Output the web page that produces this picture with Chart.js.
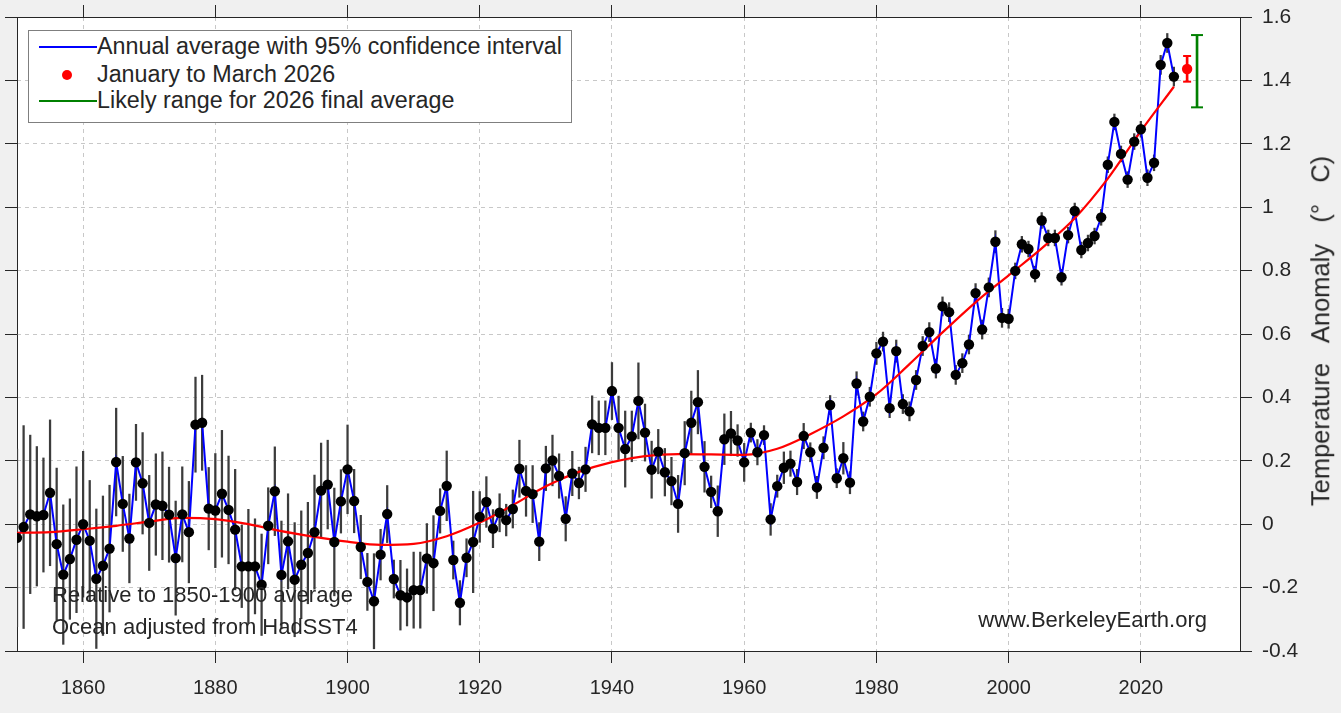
<!DOCTYPE html>
<html>
<head>
<meta charset="utf-8">
<script src="https://cdn.jsdelivr.net/npm/chart.js@4.4.1/dist/chart.umd.min.js"></script>
<style>
html,body{margin:0;padding:0;background:#f0f0f0;}
#wrap{position:relative;width:1341px;height:713px;overflow:hidden;}
#c{position:absolute;left:0;top:0;}
.txt{position:absolute;font-family:"Liberation Sans",Arial,sans-serif;color:#262626;white-space:pre;line-height:1;}
#legend{position:absolute;left:28px;top:30px;width:544px;height:93px;background:#fff;border:1px solid #7f7f7f;box-sizing:border-box;}
.lrow{position:absolute;left:0;height:26px;width:100%;}
.lrow .smp{position:absolute;left:10px;width:58px;height:2px;top:13px;}
.lrow .dot{position:absolute;left:33px;top:9px;width:10px;height:10px;border-radius:50%;background:#ff0000;}
.lrow .lt{position:absolute;left:68px;top:2px;font-family:"Liberation Sans",Arial,sans-serif;font-size:23.3px;color:#262626;white-space:nowrap;line-height:1;}
#ytitle{position:absolute;left:1321px;top:331px;transform:translate(-50%,-50%) rotate(-90deg);font-size:25.5px;}
</style>
</head>
<body>
<div id="wrap">
<canvas id="c" width="1341" height="713"></canvas>
<div id="legend">
  <div class="lrow" style="top:2px"><div class="smp" style="background:#0000ff"></div><div class="lt">Annual average with 95% confidence interval</div></div>
  <div class="lrow" style="top:30px"><div class="dot"></div><div class="lt">January to March 2026</div></div>
  <div class="lrow" style="top:56px"><div class="smp" style="background:#008000"></div><div class="lt">Likely range for 2026 final average</div></div>
</div>
<div class="txt" style="left:52px;top:584px;font-size:22px;">Relative to 1850-1900 average</div>
<div class="txt" style="left:52px;top:616px;font-size:22px;">Ocean adjusted from HadSST4</div>
<div class="txt" style="left:1207px;top:609px;font-size:22px;transform:translateX(-100%);">www.BerkeleyEarth.org</div>
<div class="txt" id="ytitle">Temperature   Anomaly   (°   C)</div>
</div>
<script>
// ---- data ----
const firstYear = 1850;
const anomaly = [
 -0.043,-0.009,0.031,0.025,0.029,0.099,-0.063,-0.159,-0.110,-0.049,
  0.000,-0.052,-0.172,-0.131,-0.077,0.196,0.064,-0.045,0.195,0.129,
  0.004,0.062,0.058,0.030,-0.107,0.031,-0.025,0.314,0.320,0.049,
  0.043,0.096,0.045,-0.017,-0.133,-0.133,-0.133,-0.191,-0.005,0.104,
 -0.160,-0.054,-0.175,-0.128,-0.091,-0.025,0.106,0.125,-0.056,0.072,
  0.173,0.073,-0.072,-0.182,-0.243,-0.096,0.032,-0.173,-0.224,-0.231,
 -0.208,-0.208,-0.108,-0.123,0.042,0.121,-0.113,-0.248,-0.106,-0.056,
  0.023,0.070,-0.014,0.036,0.013,0.048,0.175,0.105,0.095,-0.055,
  0.176,0.201,0.152,0.017,0.160,0.130,0.173,0.315,0.304,0.304,
  0.420,0.304,0.237,0.277,0.389,0.289,0.172,0.229,0.164,0.136,
  0.064,0.224,0.320,0.385,0.181,0.102,0.041,0.268,0.286,0.264,
  0.195,0.289,0.227,0.281,0.015,0.120,0.178,0.191,0.133,0.278,
  0.227,0.116,0.241,0.376,0.145,0.208,0.131,0.444,0.324,0.402,
  0.539,0.576,0.366,0.546,0.379,0.356,0.455,0.562,0.606,0.491,
  0.687,0.669,0.471,0.508,0.567,0.729,0.614,0.747,0.891,0.651,
  0.648,0.799,0.883,0.868,0.789,0.958,0.903,0.903,0.779,0.912,
  0.988,0.865,0.887,0.909,0.968,1.134,1.269,1.168,1.087,1.207,
  1.246,1.093,1.140,1.449,1.518,1.412
];
const uncertainty = [
 0.28,0.32,0.25,0.22,0.18,0.23,0.24,0.22,0.19,0.23,
 0.23,0.19,0.22,0.22,0.20,0.17,0.15,0.14,0.12,0.16,
 0.15,0.16,0.17,0.15,0.18,0.15,0.16,0.15,0.15,0.13,
 0.18,0.20,0.17,0.19,0.13,0.18,0.15,0.16,0.12,0.14,
 0.17,0.15,0.18,0.17,0.16,0.18,0.15,0.14,0.17,0.10,
 0.14,0.10,0.10,0.09,0.15,0.08,0.09,0.06,0.11,0.09,
 0.12,0.12,0.11,0.15,0.07,0.11,0.06,0.07,0.06,0.16,
 0.08,0.08,0.06,0.06,0.05,0.06,0.09,0.08,0.09,0.06,
 0.07,0.08,0.07,0.07,0.07,0.05,0.07,0.09,0.085,0.085,
 0.09,0.10,0.12,0.08,0.12,0.09,0.09,0.07,0.075,0.075,
 0.09,0.10,0.10,0.10,0.08,0.05,0.08,0.08,0.07,0.05,
 0.06,0.03,0.04,0.03,0.05,0.035,0.05,0.04,0.04,0.04,
 0.03,0.035,0.035,0.03,0.03,0.05,0.035,0.037,0.03,0.03,
 0.035,0.03,0.03,0.035,0.03,0.03,0.03,0.03,0.03,0.03,
 0.03,0.03,0.03,0.03,0.03,0.03,0.03,0.03,0.035,0.03,
 0.03,0.025,0.025,0.025,0.025,0.025,0.025,0.025,0.025,0.025,
 0.025,0.025,0.025,0.025,0.025,0.025,0.025,0.025,0.025,0.025,
 0.025,0.025,0.025,0.03,0.03,0.03
];
const smoothYears  = [1850,1855,1860,1865,1870,1875,1880,1885,1890,1895,1900,1905,1910,1915,1920,1925,1930,1935,1940,1945,1950,1955,1960,1965,1970,1975,1980,1985,1990,1995,2000,2005,2010,2015,2020,2025];
const smoothValues = [-0.027,-0.025,-0.016,-0.005,0.008,0.020,0.016,0.000,-0.022,-0.040,-0.055,-0.065,-0.062,-0.038,0.005,0.060,0.120,0.165,0.196,0.215,0.221,0.220,0.219,0.238,0.284,0.340,0.410,0.505,0.605,0.700,0.785,0.870,0.965,1.090,1.240,1.380];
const janMarX = [2027];
const janMarValue = [1.436];
const janMarLow = [1.396];
const janMarHigh = [1.477];
const likelyX = [2028.5];
const likelyLow = [1.315];
const likelyHigh = [1.543];
const xTickValues = [1860,1880,1900,1920,1940,1960,1980,2000,2020];
const xTickLabels = ['1860','1880','1900','1920','1940','1960','1980','2000','2020'];
const yTickValues = [-0.4,-0.2,0,0.2,0.4,0.6,0.8,1,1.2,1.4,1.6];
const yTickLabels = ['-0.4','-0.2','0','0.2','0.4','0.6','0.8','1','1.2','1.4','1.6'];

// ---- build datasets ----
const years = anomaly.map((_, i) => firstYear + i);
const pts = years.map((y, i) => ({x: y, y: anomaly[i]}));
const errBars = years.map((y, i) => ({x: y, y: [anomaly[i] - uncertainty[i], anomaly[i] + uncertainty[i]]}));
const smooth = smoothYears.map((y, i) => ({x: y, y: smoothValues[i]}));

const FONT = '"Liberation Sans", Arial, sans-serif';
const AX = '#262626';

const bgPlugin = {
  id: 'bg',
  beforeDraw(chart) {
    const {ctx, chartArea: a} = chart;
    ctx.save();
    ctx.fillStyle = '#ffffff';
    ctx.fillRect(a.left, a.top, a.right - a.left, a.bottom - a.top);
    ctx.restore();
  }
};

function setTicks(vals) { return s => { s.ticks = vals.map(v => ({value: v})); }; }
function fixW(w) { return s => { s.width = w; s.paddingTop = 0; s.paddingBottom = 0; }; }
function fixH(h) { return s => { s.height = h; s.paddingLeft = 0; s.paddingRight = 0; }; }

new Chart(document.getElementById('c'), {
  type: 'scatter',
  plugins: [bgPlugin],
  data: {
    datasets: [
      {type: 'bar', data: errBars, backgroundColor: '#3c3c3c', borderWidth: 0, grouped: false, barThickness: 1.6, maxBarThickness: 1.6, order: 10},
      {type: 'line', data: pts, borderColor: '#0000ff', borderWidth: 2, pointRadius: 0, tension: 0, fill: false, order: 6},
      {type: 'line', data: smooth, borderColor: '#ff0000', borderWidth: 2.2, pointRadius: 0, cubicInterpolationMode: 'monotone', fill: false, order: 5},
      {type: 'scatter', data: pts, pointRadius: 5.2, pointBackgroundColor: '#000', pointBorderWidth: 0, order: 4},
      {type: 'bar', data: janMarX.map((x, i) => ({x, y: [janMarLow[i], janMarHigh[i]]})), backgroundColor: '#ff0000', borderWidth: 0, grouped: false, barThickness: 2, maxBarThickness: 2, order: 3},
      {type: 'scatter', data: janMarX.flatMap((x, i) => [{x, y: janMarLow[i]}, {x, y: janMarHigh[i]}]), pointStyle: 'line', pointRadius: 4, pointBorderColor: '#ff0000', pointBorderWidth: 2, order: 2},
      {type: 'scatter', data: janMarX.map((x, i) => ({x, y: janMarValue[i]})), pointRadius: 5.2, pointBackgroundColor: '#ff0000', pointBorderWidth: 0, order: 1},
      {type: 'bar', data: likelyX.map((x, i) => ({x, y: [likelyLow[i], likelyHigh[i]]})), backgroundColor: '#008000', borderWidth: 0, grouped: false, barThickness: 2, maxBarThickness: 2, order: 3},
      {type: 'scatter', data: likelyX.flatMap((x, i) => [{x, y: likelyLow[i]}, {x, y: likelyHigh[i]}]), pointStyle: 'line', pointRadius: 6, pointBorderColor: '#008000', pointBorderWidth: 2, order: 2}
    ]
  },
  options: {
    responsive: false,
    animation: false,
    events: [],
    layout: {padding: 0},
    plugins: {legend: {display: false}, tooltip: {enabled: false}},
    scales: {
      x: {
        type: 'linear', position: 'bottom', min: 1850, max: 2035, offset: false,
        afterBuildTicks: setTicks(xTickValues),
        afterFit: fixH(62),
        ticks: {font: {family: FONT, size: 20}, color: AX, padding: 13, maxRotation: 0, autoSkip: false,
                callback: (v) => xTickLabels[xTickValues.indexOf(v)]},
        grid: {color: '#c8c8c8', lineWidth: 1, tickLength: 12, tickColor: AX, tickWidth: 1, offset: false},
        border: {display: true, color: AX, width: 1, dash: [4, 4]}
      },
      xTop: {
        type: 'linear', position: 'top', min: 1850, max: 2035, offset: false,
        afterBuildTicks: setTicks(xTickValues),
        afterFit: fixH(17),
        ticks: {display: false},
        grid: {drawOnChartArea: false, tickLength: 12, tickColor: AX, tickWidth: 1, offset: false},
        border: {display: true, color: AX, width: 1}
      },
      y: {
        type: 'linear', position: 'right', min: -0.4, max: 1.6,
        afterBuildTicks: setTicks(yTickValues),
        afterFit: fixW(101),
        ticks: {font: {family: FONT, size: 21}, color: AX, padding: 10, autoSkip: false,
                callback: (v) => yTickLabels[yTickValues.findIndex(t => Math.abs(t - v) < 1e-9)]},
        grid: {color: '#c8c8c8', lineWidth: 1, tickLength: 12, tickColor: AX, tickWidth: 1},
        border: {display: true, color: AX, width: 1, dash: [4, 4]}
      },
      yLeft: {
        type: 'linear', position: 'left', min: -0.4, max: 1.6,
        afterBuildTicks: setTicks(yTickValues),
        afterFit: fixW(17),
        ticks: {display: false},
        grid: {drawOnChartArea: false, tickLength: 12, tickColor: AX, tickWidth: 1},
        border: {display: true, color: AX, width: 1}
      }
    }
  }
});
</script>
</body>
</html>
